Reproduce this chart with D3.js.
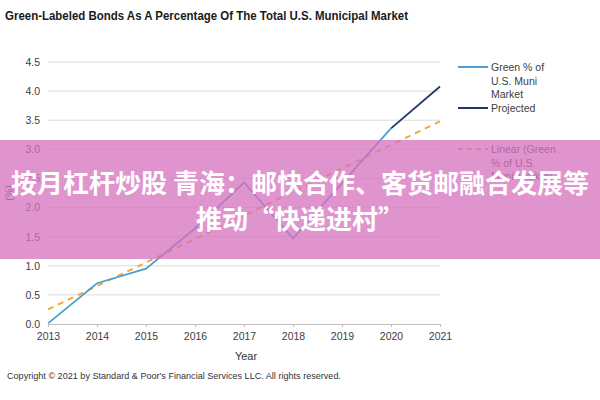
<!DOCTYPE html>
<html>
<head>
<meta charset="utf-8">
<script src="https://cdn.jsdelivr.net/npm/d3@7"></script>
<style>
  html, body { margin: 0; padding: 0; background: #fff; }
  svg { display: block; }
</style>
</head>
<body>
<svg id="chart" width="600" height="400"></svg>
<script>
// ---- data ----
const years = [2013, 2014, 2015, 2016, 2017, 2018, 2019, 2020, 2021];
const greenYears = [2013, 2014, 2015, 2016, 2017, 2018, 2019, 2020];
const greenValues = [0.01, 0.70, 0.95, 1.64, 2.43, 1.47, 2.42, 3.36];
const projectedYears = [2020, 2021];
const projectedValues = [3.36, 4.08];
const trendYears = [2013, 2021];
const trendValues = [0.25, 3.48];
const yTicks = [0.0, 0.5, 1.0, 1.5, 2.0, 2.5, 3.0, 3.5, 4.0, 4.5];
const legendItems = [
  { lines: ["Green % of", "U.S. Muni", "Market"], color: "#4a9fd0", dash: null },
  { lines: ["Projected"], color: "#1f3864", dash: null },
  { lines: ["Linear (Green", "% of U.S.", "Muni Market)"], color: "#f2a93b", dash: "5,4" }
];
const titleText = "Green-Labeled Bonds As A Percentage Of The Total U.S. Municipal Market";
const copyrightText = "Copyright \u00a9 2021 by Standard & Poor's Financial Services LLC. All rights reserved.";
const bannerLines = ["按月杠杆炒股 青海：邮快合作、客货邮融合发展等", "推动“快递进村”"];

const font = "'Liberation Sans', Arial, sans-serif";
const svg = d3.select("#chart");

const x = d3.scaleLinear().domain([2013, 2021]).range([48, 440]);
const y = d3.scaleLinear().domain([0, 4.5]).range([324, 62]);

// title
svg.append("text").attr("x", 5).attr("y", 20)
  .attr("font-family", font).attr("font-weight", "bold").attr("font-size", 13)
  .attr("textLength", 403).attr("lengthAdjust", "spacingAndGlyphs")
  .attr("fill", "#1a1a1a").text(titleText);

// gridlines
svg.append("g").selectAll("line").data(yTicks.slice(1)).join("line")
  .attr("x1", x(2013)).attr("x2", x(2021))
  .attr("y1", d => y(d)).attr("y2", d => y(d))
  .attr("stroke", "#dcdcdc").attr("stroke-width", 1);

// y axis (labels only)
const yAxis = d3.axisLeft(y).tickValues(yTicks).tickFormat(d3.format(".1f")).tickSize(0).tickPadding(8);
const gy = svg.append("g").attr("transform", `translate(${x(2013)},0)`).call(yAxis);
gy.select(".domain").remove();
gy.selectAll("text").attr("font-family", font).attr("font-size", 10.5).attr("fill", "#404040");

// x axis
const xAxis = d3.axisBottom(x).tickValues(years).tickFormat(d3.format("d")).tickSize(3).tickPadding(6);
const gx = svg.append("g").attr("transform", `translate(0,${y(0)})`).call(xAxis);
gx.select(".domain").attr("stroke", "#bfbfbf");
gx.selectAll(".tick line").attr("stroke", "#bfbfbf");
gx.selectAll("text").attr("font-family", font).attr("font-size", 10.5).attr("fill", "#404040");

// axis titles
svg.append("text").attr("x", x(2017) + 2).attr("y", 360).attr("text-anchor", "middle")
  .attr("font-family", font).attr("font-size", 11).attr("fill", "#333").text("Year");
svg.append("text").attr("transform", `translate(13,${y(2.25)}) rotate(-90)`).attr("text-anchor", "middle")
  .attr("font-family", font).attr("font-size", 10).attr("fill", "#333").text("(%)");

// lines
const line = d3.line().x(d => x(d[0])).y(d => y(d[1]));
svg.append("path").datum(trendYears.map((t, i) => [t, trendValues[i]]))
  .attr("d", line).attr("fill", "none").attr("stroke", "#f2a93b")
  .attr("stroke-width", 2).attr("stroke-dasharray", "6,5");
svg.append("path").datum(greenYears.map((t, i) => [t, greenValues[i]]))
  .attr("d", line).attr("fill", "none").attr("stroke", "#4a9fd0").attr("stroke-width", 1.8);
svg.append("path").datum(projectedYears.map((t, i) => [t, projectedValues[i]]))
  .attr("d", line).attr("fill", "none").attr("stroke", "#1f3864").attr("stroke-width", 1.8);

// legend
const legendTop = [67, 108, 149];
legendItems.forEach((item, i) => {
  const ly = legendTop[i];
  svg.append("line").attr("x1", 458).attr("x2", 488).attr("y1", ly).attr("y2", ly)
    .attr("stroke", item.color).attr("stroke-width", 2)
    .attr("stroke-dasharray", item.dash);
  item.lines.forEach((t, j) => {
    svg.append("text").attr("x", 491).attr("y", ly + 4 + j * 13.5)
      .attr("font-family", font).attr("font-size", 10.5).attr("fill", "#404040").text(t);
  });
});

// copyright
svg.append("text").attr("x", 7).attr("y", 379)
  .attr("font-family", font).attr("font-size", 9.5)
  .attr("textLength", 334).attr("lengthAdjust", "spacingAndGlyphs")
  .attr("fill", "#333").text(copyrightText);

// banner overlay
svg.append("rect").attr("x", 0).attr("y", 140).attr("width", 600).attr("height", 119)
  .attr("fill", "#d670be").attr("opacity", 0.75);
bannerLines.forEach((t, i) => {
  svg.append("text").attr("x", 300).attr("y", 193 + i * 36).attr("text-anchor", "middle")
    .attr("font-family", "'Noto Sans CJK SC', sans-serif").attr("font-weight", "bold")
    .attr("font-size", 26).attr("fill", "#ffffff").text(t);
});
</script>
</body>
</html>
